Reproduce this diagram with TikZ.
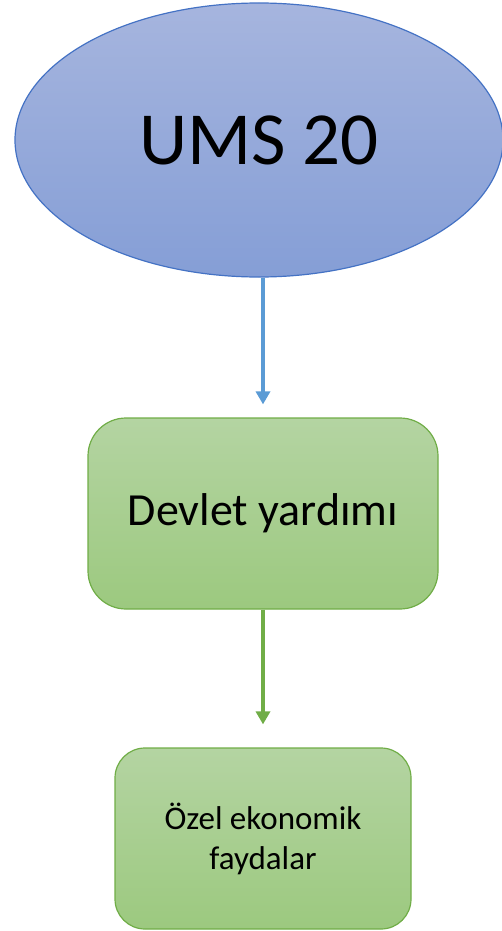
\documentclass[tikz,border=0pt]{standalone}
\usepackage{fontspec}
\setmainfont{Carlito}
\usetikzlibrary{shapes.geometric,arrows.meta}
\definecolor{ellstroke}{HTML}{4472C4}
\definecolor{elltop}{HTML}{A6B5DE}
\definecolor{ellbot}{HTML}{859ED6}
\definecolor{boxstroke}{HTML}{70AD47}
\definecolor{boxtop}{HTML}{B4D4A2}
\definecolor{boxbot}{HTML}{9CC97F}
\definecolor{bluearrow}{HTML}{5B9BD5}
\tikzset{
  ellnode/.style={ellipse, draw=ellstroke, line width=1.2pt, top color=elltop, bottom color=ellbot, inner sep=0pt},
  boxnode/.style={rectangle, draw=boxstroke, line width=1.2pt, top color=boxtop, bottom color=boxbot, inner sep=0pt, align=center},
  conn/.style={line width=3.6pt, -{Triangle[width=14pt,length=13pt]}}
}
\begin{document}
\begin{tikzpicture}[x=1pt,y=-1pt]
\useasboundingbox (0,0) rectangle (501,931);
\node[ellnode, minimum width=488pt, minimum height=274pt, font=\fontsize{75}{80}\selectfont] (ums) at (259,140) {UMS 20};
\node[boxnode, rounded corners=38pt, minimum width=350pt, minimum height=191pt, font=\fontsize{46}{52}\selectfont] (dev) at (263,513.5) {Devlet yardımı};
\node[boxnode, rounded corners=30pt, minimum width=296pt, minimum height=181pt, font=\fontsize{33}{40}\selectfont] (ozel) at (263,838.5) {Özel ekonomik\\faydalar};
\draw[conn, draw=bluearrow] (ums.south -| dev.north) -- ([yshift=13pt]dev.north);
\draw[conn, draw=boxstroke] (dev.south) -- ([yshift=23pt]ozel.north);
\end{tikzpicture}
\end{document}
